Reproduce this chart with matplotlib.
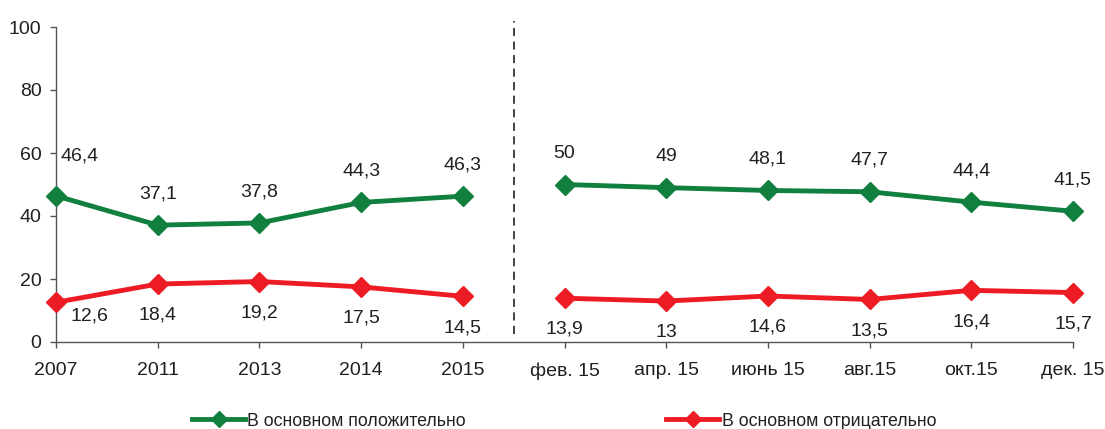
import matplotlib
matplotlib.use("Agg")
import matplotlib.pyplot as plt
from matplotlib.lines import Line2D

plt.rcParams['font.family'] = ['Liberation Sans', 'DejaVu Sans']

categories = ['2007', '2011', '2013', '2014', '2015',
              'фев. 15', 'апр. 15', 'июнь 15', 'авг.15', 'окт.15', 'дек. 15']
positive = [46.4, 37.1, 37.8, 44.3, 46.3, 50, 49, 48.1, 47.7, 44.4, 41.5]
negative = [12.6, 18.4, 19.2, 17.5, 14.5, 13.9, 13, 14.6, 13.5, 16.4, 15.7]
series_names = ['В основном положительно', 'В основном отрицательно']
split_index = 5  # first monthly point (after the dashed divider)

GREEN = '#11803F'
RED = '#ED1C24'
TXT = '#231F20'
FS = 14
LFS = 12.8

def fmt(v):
    s = f'{v:g}'
    return s.replace('.', ',')

fig = plt.figure(figsize=(11.05, 4.29), dpi=100)
W, H = 1105, 429
ax = fig.add_axes([56 / W, 1 - 342 / H, (1073 - 56) / W, (342 - 27) / H])

x = list(range(len(categories)))
segments = [(0, split_index), (split_index, len(categories))]
for vals, col in ((positive, GREEN), (negative, RED)):
    for a, b in segments:
        ax.plot(x[a:b], vals[a:b], color=col, lw=3.5, marker='D', ms=10,
                mec=col, mfc=col, clip_on=False, zorder=3)

# data labels
for i, v in enumerate(positive):
    dx, dy = 0, 22.5
    if i == 0:
        dx, dy = 17, 28.5
    ax.annotate(fmt(v), (x[i], v), xytext=(dx, dy), textcoords='offset points',
                ha='center', va='center', fontsize=FS, color=TXT)
for i, v in enumerate(negative):
    dx, dy = 0, -22.5
    if i == 0:
        dx, dy = 24, -10
    ax.annotate(fmt(v), (x[i], v), xytext=(dx, dy), textcoords='offset points',
                ha='center', va='center', fontsize=FS, color=TXT)

# dashed divider
ax.plot([split_index - 0.5, split_index - 0.5], [2.5, 102], color='#333333',
        lw=1.3, ls=(0, (4.5, 3)), clip_on=False, zorder=2)

ax.set_xlim(0, len(categories) - 1)
ax.set_ylim(0, 100)
ax.set_yticks([0, 20, 40, 60, 80, 100])
ax.set_xticks(x)
ax.set_xticklabels(categories)
for s in ('top', 'right'):
    ax.spines[s].set_visible(False)
for s in ('left', 'bottom'):
    ax.spines[s].set_color('#555555')
    ax.spines[s].set_linewidth(1.0)
ax.tick_params(axis='both', colors='#555555', labelcolor=TXT, labelsize=FS,
               length=4.5, width=1.0, direction='out')
ax.tick_params(axis='y', pad=6)
ax.tick_params(axis='x', pad=10)

handles = [Line2D([], [], color=GREEN, lw=3.5, marker='D', ms=8),
           Line2D([], [], color=RED, lw=3.5, marker='D', ms=8)]
fig.legend(handles, series_names, loc='center', bbox_to_anchor=(564 / W, 1 - 421 / H),
           ncol=2, frameon=False, fontsize=LFS, handlelength=3.0, handletextpad=0.12,
           columnspacing=11.25, labelcolor=TXT, borderpad=0, borderaxespad=0)

fig.savefig('out.png', dpi=100)
